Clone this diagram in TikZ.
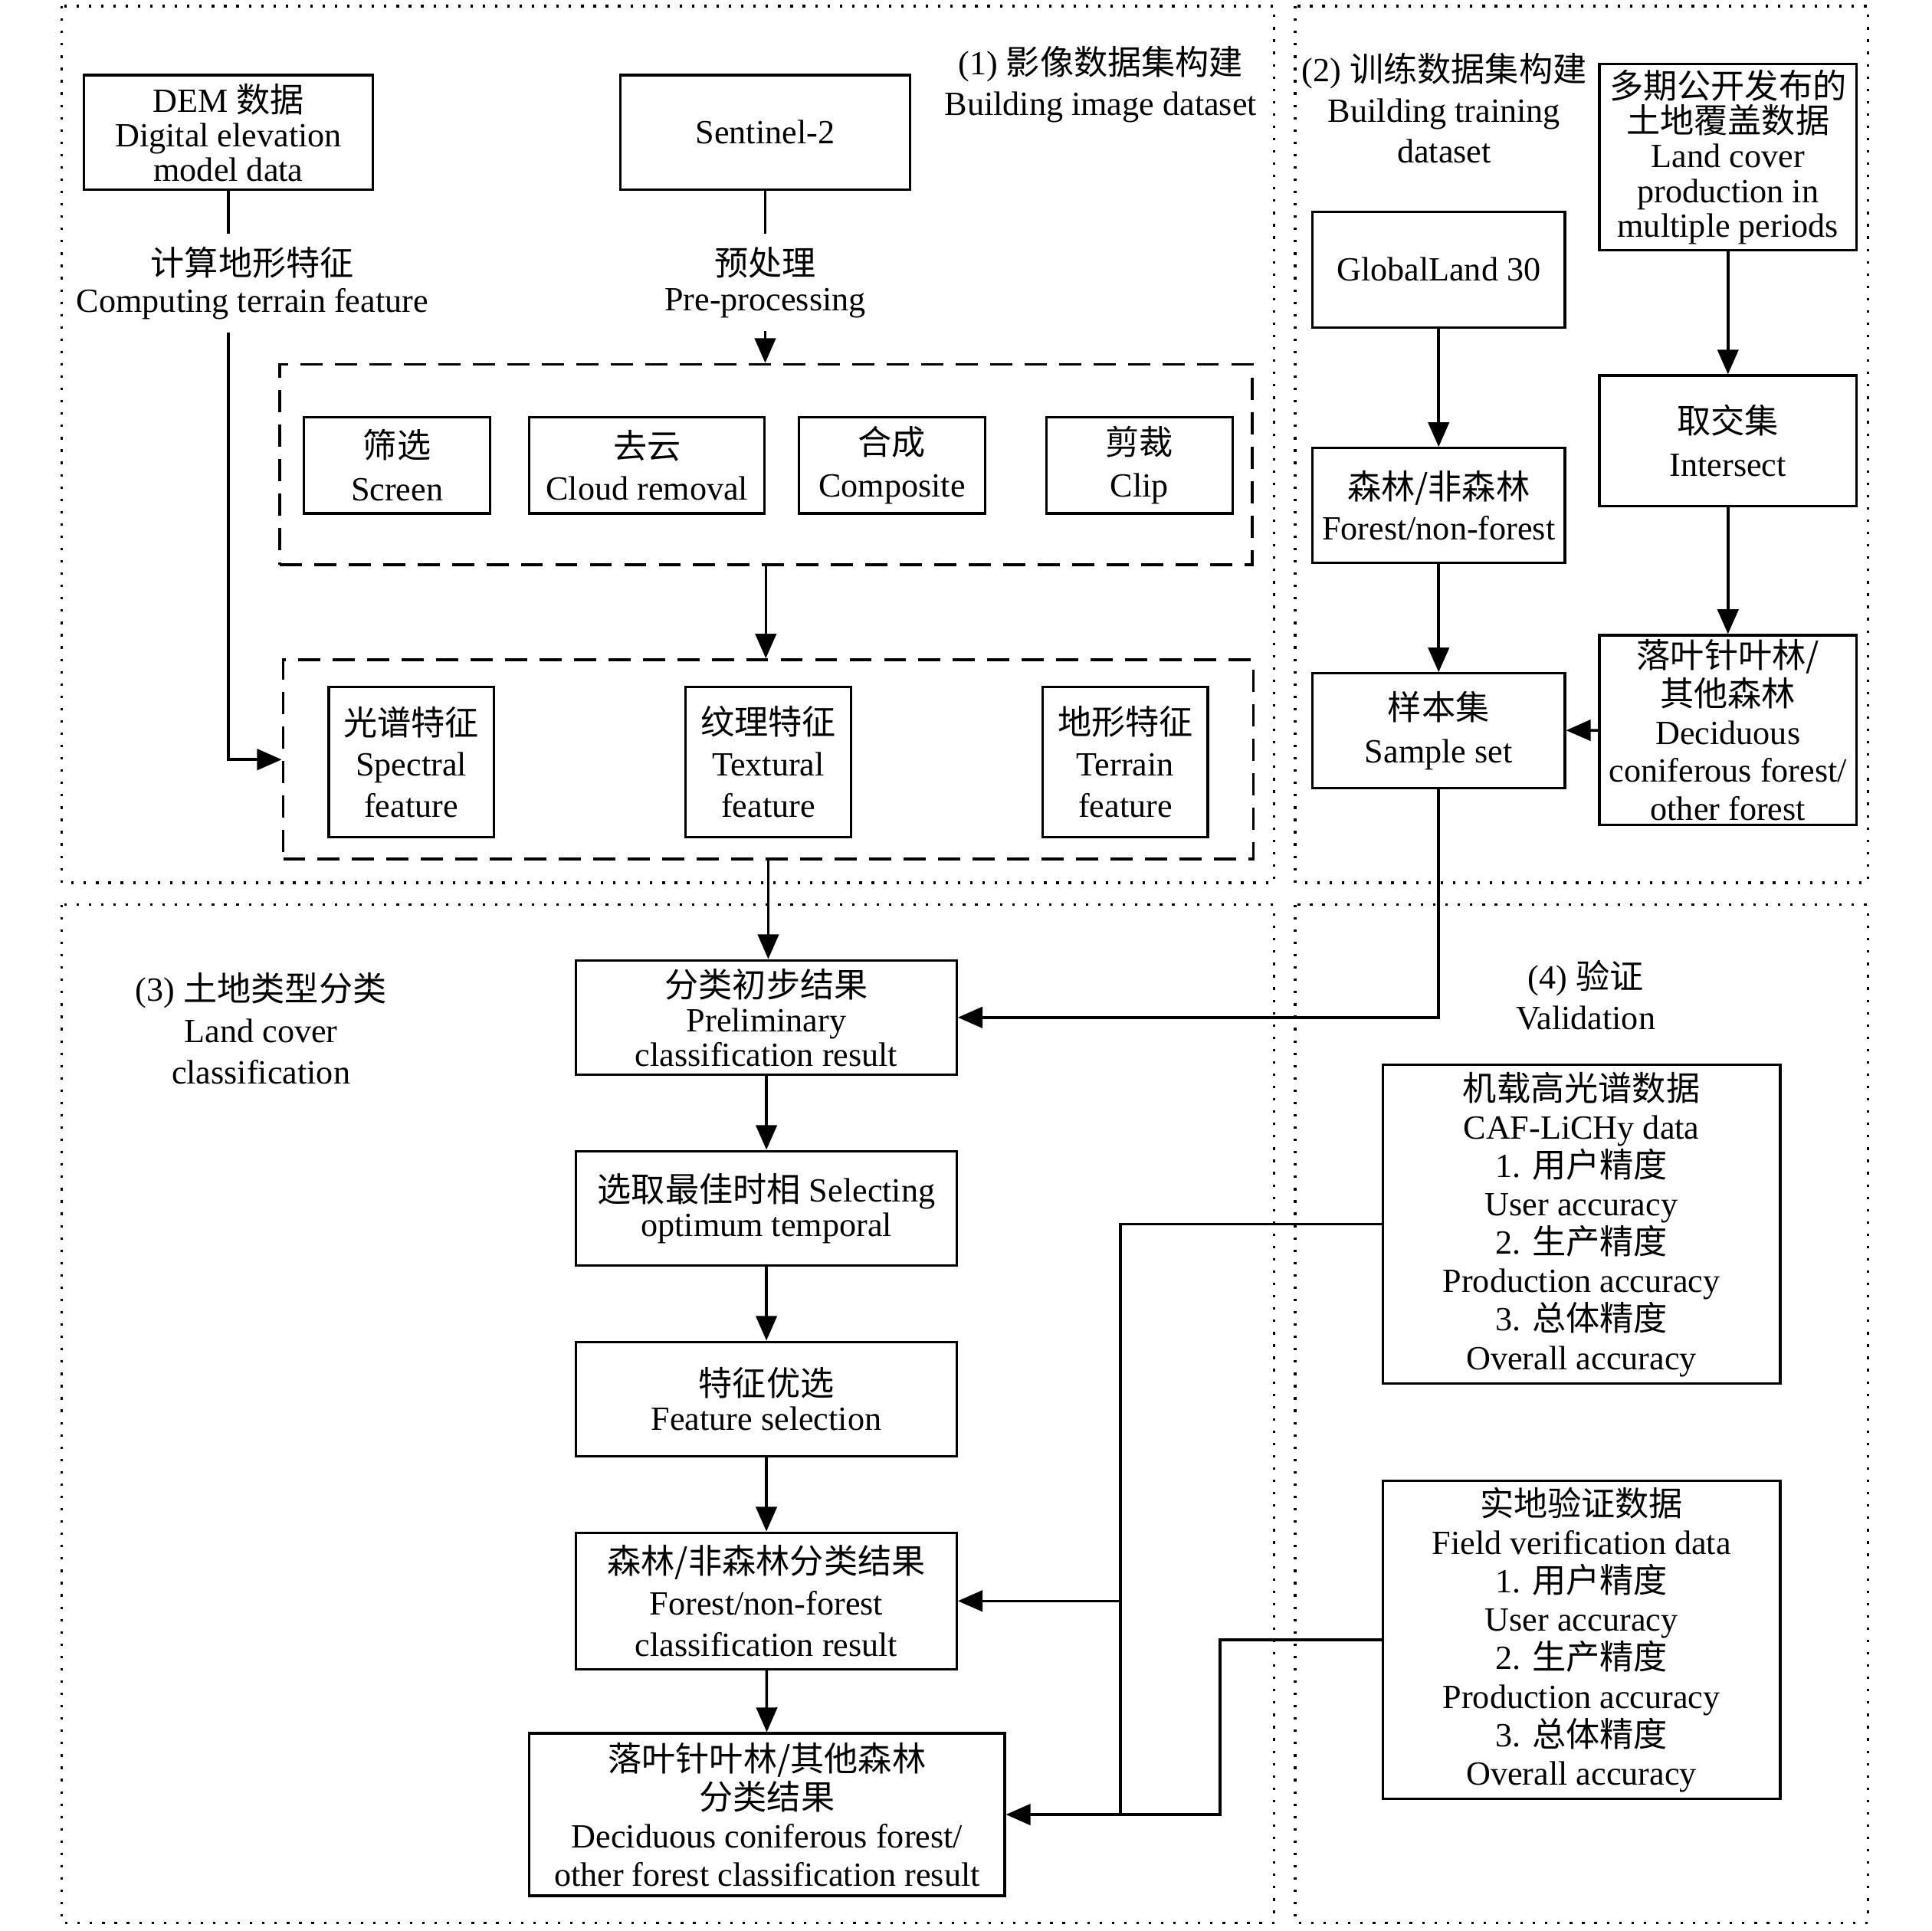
\documentclass[tikz,border=0pt]{standalone}
\usepackage{fontspec}
\setmainfont{Liberation Serif}
\newfontfamily\cjkfont{Noto Sans CJK SC}
\usetikzlibrary{arrows.meta}
\newcommand\zhc[1]{{\cjkfont #1}}
\newcommand\fsz[1]{\fontsize{13.75pt}{#1pt}\selectfont}
\begin{document}
\begin{tikzpicture}[x=0.5pt,y=-0.5pt,
  every node/.style={inner sep=0pt, align=center, font=\fsz{14}},
  box/.style 2 args={draw, line width=1pt, minimum width=#1*0.5pt, minimum height=#2*0.5pt},
  dbox/.style 2 args={draw, line width=1.2pt, dash pattern=on 9pt off 5pt, minimum width=#1*0.5pt, minimum height=#2*0.5pt},
  region/.style={line width=1pt, dash pattern=on 1pt off 4pt},
  conn/.style={line width=1.1pt},
  arr/.style={-{Triangle[length=10pt,width=8.5pt]}},
  lbl/.style={inner sep=5pt}]
\fill[white] (0,0) rectangle (1568.6,1568.6);
\useasboundingbox (0,0) rectangle (1568.6,1568.6);
% regions
\draw[region] (50,5) rectangle (1035,717);
\draw[region] (1052,5) rectangle (1517,717);
\draw[region] (50,735) rectangle (1035,1562);
\draw[region] (1052,735) rectangle (1517,1562);
% region labels
\node[font=\fsz{16.5}] (r1) at (894,68.5) {(1) \zhc{影像数据集构建}\\Building image dataset};
\node[font=\fsz{16.5}] (r2) at (1173,88) {(2) \zhc{训练数据集构建}\\Building training\\dataset};
\node[font=\fsz{16.75}] (r3) at (212,835.5) {(3) \zhc{土地类型分类}\\Land cover\\classification};
\node[font=\fsz{16.5}] (r4) at (1288,808.5) {(4) \zhc{验证}\\Validation};
% region 1
\node[box={235}{93}] (dem) at (185.5,107.5) {DEM \zhc{数据}\\Digital elevation\\model data};
\node[box={235}{93}] (s2) at (621.5,107.5) {Sentinel-2};
\node[lbl, font=\fsz{15}] (tl) at (205,230) {\zhc{计算地形特征}\\Computing terrain feature};
\node[lbl, font=\fsz{14.5}] (pl) at (621.5,229.5) {\zhc{预处理}\\Pre-processing};
\node[dbox={790}{163}] (db1) at (622,377.5) {};
\node[box={151}{78}, font=\fsz{17.5}] (scr) at (322.5,378) {\zhc{筛选}\\Screen};
\node[box={191}{78}, font=\fsz{17}] (cld) at (525.5,378) {\zhc{去云}\\Cloud removal};
\node[box={151}{78}, font=\fsz{17}] (cmp) at (724.5,378) {\zhc{合成}\\Composite};
\node[box={151}{78}, font=\fsz{17}] (clp) at (925.5,378) {\zhc{剪裁}\\Clip};
\node[dbox={788}{162}] (db2) at (624,617) {};
\node[box={134}{122}, font=\fsz{16.75}] (spe) at (334,619) {\zhc{光谱特征}\\Spectral\\feature};
\node[box={134}{122}, font=\fsz{16.75}] (tex) at (624,619) {\zhc{纹理特征}\\Textural\\feature};
\node[box={134}{122}, font=\fsz{16.75}] (ter) at (914,619) {\zhc{地形特征}\\Terrain\\feature};
% region 2
\node[box={205}{94}] (gl) at (1168.5,219) {GlobalLand 30};
\node[box={209}{151}, font=\fsz{14.1}] (mp) at (1403.5,127.5) {\zhc{多期公开发布的}\\\zhc{土地覆盖数据}\\Land cover\\production in\\multiple periods};
\node[box={205}{93}, font=\fsz{16.5}] (fnf) at (1168.5,410.5) {\zhc{森林/非森林}\\Forest/non-forest};
\node[box={209}{106}, font=\fsz{17.5}] (inter) at (1403.5,358) {\zhc{取交集}\\Intersect};
\node[box={209}{154}, font=\fsz{15.5}] (dec2) at (1403.5,593) {\zhc{落叶针叶林/}\\\zhc{其他森林}\\Deciduous\\coniferous forest/\\other forest};
\node[box={205}{93}, font=\fsz{17.5}] (samp) at (1168.5,593.5) {\zhc{样本集}\\Sample set};
% region 3
\node[box={309}{93}] (pre) at (622.5,826.5) {\zhc{分类初步结果}\\Preliminary\\classification result};
\node[box={309}{93}] (sel) at (622.5,981.5) {\zhc{选取最佳时相} Selecting\\optimum temporal};
\node[box={309}{93}] (fsel) at (622.5,1136.5) {\zhc{特征优选}\\Feature selection};
\node[box={309}{111}, font=\fsz{16.75}] (fnfr) at (622.5,1300.5) {\zhc{森林/非森林分类结果}\\Forest/non-forest\\classification result};
\node[box={386}{132}, font=\fsz{15.5}] (decr) at (623,1474) {\zhc{落叶针叶林/其他森林}\\\zhc{分类结果}\\Deciduous coniferous forest/\\other forest classification result};
% region 4
\node[box={323}{259}, font=\fsz{15.6}] (caf) at (1284.5,994.5) {\zhc{机载高光谱数据}\\CAF-LiCHy data\\1. \zhc{用户精度}\\User accuracy\\2. \zhc{生产精度}\\Production accuracy\\3. \zhc{总体精度}\\Overall accuracy};
\node[box={323}{258}, font=\fsz{15.6}] (fld) at (1284.5,1332) {\zhc{实地验证数据}\\Field verification data\\1. \zhc{用户精度}\\User accuracy\\2. \zhc{生产精度}\\Production accuracy\\3. \zhc{总体精度}\\Overall accuracy};
% connectors
\draw[conn] (dem.south) -- (dem.south |- tl.north);
\draw[conn,arr] (dem.south |- tl.south) |- (db2.west);
\draw[conn] (s2.south) -- (pl.north);
\draw[conn,arr] (pl.south) -- (pl.south |- db1.north);
\draw[conn,arr] (db1.south) -- (db1.south |- db2.north);
\draw[conn,arr] (db2.south) -- (db2.south |- pre.north);
\draw[conn,arr] (gl) -- (fnf);
\draw[conn,arr] (mp) -- (inter);
\draw[conn,arr] (inter) -- (dec2);
\draw[conn,arr] (fnf) -- (samp);
\draw[conn,arr] (dec2) -- (samp);
\draw[conn,arr] (samp.south) |- (pre.east);
\draw[conn,arr] (pre) -- (sel);
\draw[conn,arr] (sel) -- (fsel);
\draw[conn,arr] (fsel) -- (fnfr);
\draw[conn,arr] (fnfr) -- (decr);
\coordinate (bx) at (910,995);
\draw[conn] (caf.west) -- (bx |- caf.west) -- (bx |- decr.east);
\draw[conn,arr] (bx |- fnfr.east) -- (fnfr.east);
\draw[conn,arr] (fld.west) -- ++(-131,0) |- (decr.east);
\end{tikzpicture}
\end{document}
